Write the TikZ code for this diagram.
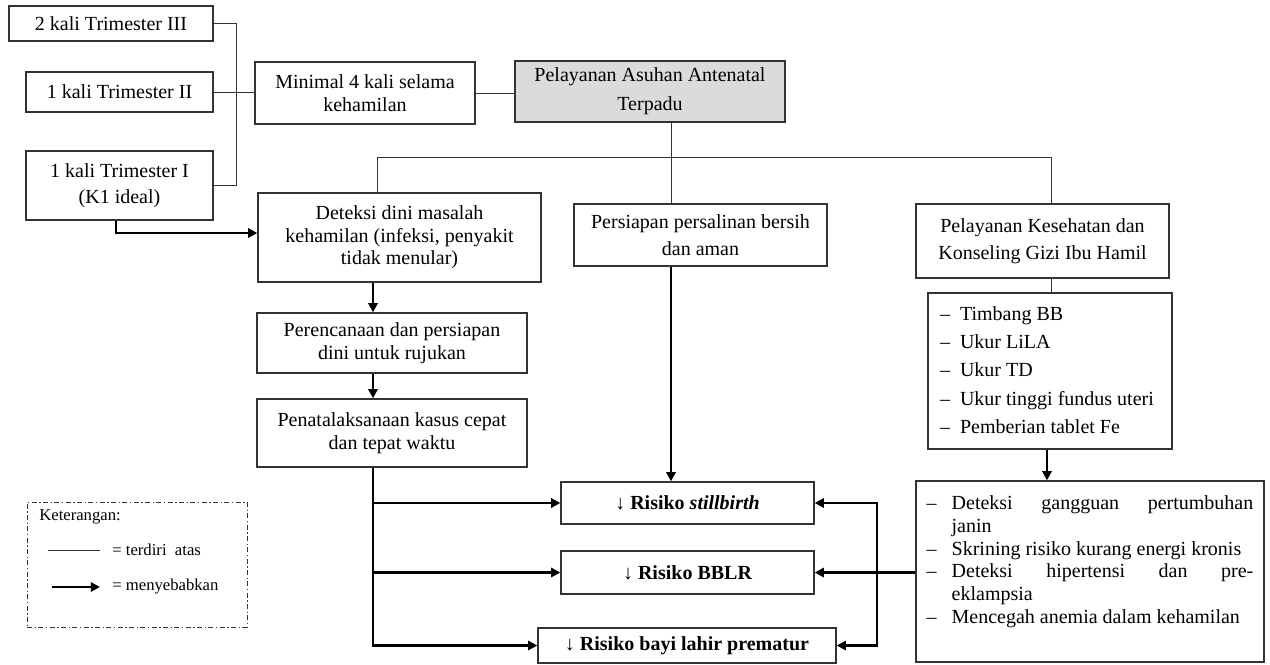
\documentclass[tikz,border=0pt]{standalone}
\usepackage{fontspec}
\setmainfont{Liberation Serif}
\usepackage{tikz}
\usetikzlibrary{arrows.meta}

\newcommand{\dashitem}[2][1em]{\par\noindent\hangindent=#1\hangafter=1\makebox[#1][l]{--}#2}

\tikzset{
  >={Triangle[length=5.5pt,width=5.5pt]},
  box/.style={draw=black!80, line width=0.8pt, align=center, inner sep=0pt, font=\fontsize{12}{13.5}\selectfont},
  listbox/.style={draw=black!80, line width=0.8pt, inner sep=0pt},
  sz/.style 2 args={minimum width=#1*0.6pt, minimum height=#2*0.6pt},
  risk/.style={box, font=\fontsize{12}{13.5}\selectfont\bfseries},
  tree/.style={draw=black!80, line width=0.6pt},
  cause/.style={line width=1.5pt, ->},
  legtext/.style={anchor=west, inner sep=0pt, font=\fontsize{10}{12}\selectfont},
}

\begin{document}
\begin{tikzpicture}[x=0.6pt, y=-0.6pt]
        \useasboundingbox (0,0) rectangle (1270,664);

        % kunjungan
        \node[box, sz={204}{35}] (t3) at (111,23.5) {2 kali Trimester III};
        \node[box, sz={187}{40}] (t2) at (119.5,92) {1 kali Trimester II};
        \node[box, sz={187}{69}] (t1) at (119.5,185.5) {1 kali Trimester I\\[2pt](K1 ideal)};
        \node[box, sz={220}{62}] (minimal) at (365,93) {Minimal 4 kali selama\\kehamilan};
        \node[box, sz={270}{61}, fill=black!14] (anc) at (650,91.5) {Pelayanan Asuhan Antenatal\\[4pt]Terpadu};

        % tiga cabang
        \node[box, sz={283}{89}] (deteksi) at (399.5,237.5) {Deteksi dini masalah\\kehamilan (infeksi, penyakit\\tidak menular)};
        \node[box, sz={253}{62}] (persiapan) at (700.5,235) {Persiapan persalinan bersih\\[3pt]dan aman};
        \node[box, sz={253}{74}] (gizi) at (1042.5,241) {Pelayanan Kesehatan dan\\[3pt]Konseling Gizi Ibu Hamil};

        \node[box, sz={270}{60}] (rencana) at (392,343) {Perencanaan dan persiapan\\dini untuk rujukan};
        \node[box, sz={270}{68}] (tata) at (392,433) {Penatalaksanaan kasus cepat\\dan tepat waktu};

        \node[listbox, sz={244}{156}, font=\fontsize{12}{17}\selectfont] (ukur) at (1050,371)
          {\begin{minipage}[c][93.6pt][t]{132pt}\raggedright\vspace*{8pt}
           \dashitem{Timbang BB}\dashitem{Ukur LiLA}\dashitem{Ukur TD}\dashitem{Ukur tinggi fundus uteri}\dashitem{Pemberian tablet Fe}
           \end{minipage}};
        \node[listbox, sz={348}{181}, font=\fontsize{12}{13.6}\selectfont] (skrining) at (1090,571.5)
          {\begin{minipage}[c][108.6pt][t]{196pt}\vspace*{9pt}
           \dashitem[1.25em]{Deteksi gangguan pertumbuhan\linebreak janin}\dashitem[1.25em]{Skrining risiko kurang energi kronis}\dashitem[1.25em]{Deteksi hipertensi dan pre-\linebreak eklampsia}\dashitem[1.25em]{Mencegah anemia dalam kehamilan}
           \end{minipage}};

        % risiko
        \node[risk, sz={253}{42}] (still) at (687.5,503) {↓ Risiko \textit{stillbirth}};
        \node[risk, sz={253}{43}] (bblr) at (687.5,572.5) {↓ Risiko BBLR};
        \node[risk, sz={298}{35}] (prematur) at (687,645.5) {↓ Risiko bayi lahir prematur};

        % keterangan
        \node[draw=black!80, line width=0.6pt, dash pattern=on 3pt off 1.5pt on 0.8pt off 1.5pt, sz={220}{125}, inner sep=0pt] (legenda) at (137,564.5) {};
        \node[legtext] (ket) at (39,517) {Keterangan:};
        \coordinate (garisA) at (48,550);
        \coordinate (garisB) at (100,550);
        \draw[tree] (garisA) -- (garisB);
        \node[legtext] (terdiri) at (112,550) {= terdiri\ \ atas};
        \coordinate (panahA) at (52,587);
        \coordinate (panahB) at (100,587);
        \draw[cause] (panahA) -- (panahB);
        \node[legtext] (sebab) at (112,587) {= menyebabkan};

        % garis terdiri atas
        \coordinate (kiri) at (236,0);
        \draw[tree] (t3.east) -- (t3.east -| kiri) -- (kiri |- t1.east) -- (t1.east);
        \draw[tree] (t2.east) -- (t2.east -| minimal.west);
        \draw[tree] (minimal.east) -- (minimal.east -| anc.west);

        \coordinate (bus) at (671,157);
        \coordinate (busL) at (377,157);
        \coordinate (busR) at (1051,157);
        \draw[tree] (anc.south -| bus) -- (persiapan.north -| bus);
        \draw[tree] (busL |- deteksi.north) -- (busL) -- (busR) -- (busR |- gizi.north);
        \draw[tree] (gizi.south -| busR) -- (ukur.north -| busR);

        % panah menyebabkan
        \coordinate (k1) at (116,233);
        \draw[cause] (t1.south -| k1) -- (k1) -- (k1 -| deteksi.west);

        \coordinate (alur) at (373,0);
        \draw[cause] (deteksi.south -| alur) -- (rencana.north -| alur);
        \draw[cause] (rencana.south -| alur) -- (tata.north -| alur);
        \draw[cause] (tata.south -| alur) -- (alur |- prematur.west) -- (prematur.west);
        \draw[cause] (alur |- still.west) -- (still.west);
        \draw[cause] (alur |- bblr.west) -- (bblr.west);

        \draw[cause] (persiapan.south -| bus) -- (still.north -| bus);

        \coordinate (kanan) at (1047,0);
        \draw[cause] (ukur.south -| kanan) -- (skrining.north -| kanan);
        \draw[cause] (skrining.west |- bblr.east) -- (bblr.east);
        \coordinate (balik) at (877,0);
        \draw[cause, <->] (still.east) -- (balik |- still.east) -- (balik |- prematur.east) -- (prematur.east);
\end{tikzpicture}
\end{document}
